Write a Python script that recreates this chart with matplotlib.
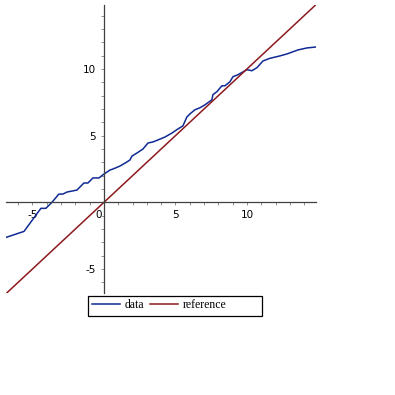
import matplotlib
matplotlib.use("Agg")
import matplotlib.pyplot as plt
import matplotlib.transforms as mtransforms
from matplotlib.patches import Rectangle
import numpy as np

data_x = [-6.85, -5.59, -4.41, -4.06, -3.64, -3.15, -2.87, -2.59, -1.89, -1.40, -1.12,
          -0.77, -0.35, 0.0, 0.42, 0.63, 1.12, 1.61, 1.82, 1.96, 2.31, 2.73, 3.08, 3.43,
          3.78, 4.27, 4.76, 5.17, 5.52, 5.8, 6.0, 6.36, 6.71, 7.06, 7.55, 7.62, 7.9,
          8.25, 8.46, 8.81, 9.02, 9.37, 10.0, 10.35, 10.7, 11.12, 11.6, 12.3, 12.8,
          13.57, 14.2, 14.83]
data_y = [-2.63, -2.18, -0.45, -0.45, 0.0, 0.62, 0.62, 0.77, 0.92, 1.45, 1.45,
          1.83, 1.83, 2.12, 2.42, 2.5, 2.72, 3.03, 3.18, 3.47, 3.7, 4.0, 4.45, 4.53,
          4.68, 4.9, 5.2, 5.5, 5.73, 6.4, 6.62, 6.94, 7.09, 7.31, 7.69, 8.07, 8.3,
          8.74, 8.74, 9.04, 9.42, 9.57, 9.95, 9.87, 10.1, 10.6, 10.8, 10.98, 11.13,
          11.43, 11.58, 11.65]
ref_x = [-6.85, 14.83]
ref_y = [-6.85, 14.83]
series_names = ["data", "reference"]
xmajor = [-5, 0, 5, 10]
ymajor = [-5, 5, 10]

W = 395
fig = plt.figure(figsize=(3.95, 3.95), dpi=100)
ax = fig.add_axes([6/W, 1-293/W, (316-6)/W, (293-5)/W])
ax.set_xlim(-6.85, 14.83)
ax.set_ylim(-6.8, 14.8)

l1, = ax.plot(data_x, data_y, color="#102a94", lw=1.1, label=series_names[0])
l2, = ax.plot(ref_x, ref_y, color="#8c1a1e", lw=1.1, label=series_names[1])

for s in ["top", "right"]:
    ax.spines[s].set_visible(False)
ax.spines["left"].set_position(("data", 0))
ax.spines["bottom"].set_position(("data", 0))
for s in ["left", "bottom"]:
    ax.spines[s].set_color("#404040")
    ax.spines[s].set_linewidth(0.9)

ax.set_xticks(xmajor)
ax.set_xticklabels([str(v) for v in xmajor])
ax.set_yticks(ymajor)
ax.set_yticklabels([str(v) for v in ymajor])
ax.set_xticks(np.arange(-6, 15, 1), minor=True)
ax.set_yticks(np.arange(-6, 15, 1), minor=True)
ax.tick_params(which="both", direction="out", length=2.5, width=0.7, color="#909090",
               labelsize=7.5, pad=3)

# shift the "0" label left of the axis
for lbl in ax.get_xticklabels():
    if lbl.get_text() == "0":
        lbl.set_transform(lbl.get_transform() + mtransforms.ScaledTranslation(-5/100, 0, fig.dpi_scale_trans))

# legend frame
fig.patches.append(Rectangle((88/W, 1-316/W), (261.5-88)/W, (316-295.5)/W,
                             transform=fig.transFigure, fill=False,
                             edgecolor="black", linewidth=0.9))
leg = fig.legend(handles=[l1, l2], loc="center left",
                 bbox_to_anchor=(92/W, 1-305.5/W), ncol=2, frameon=False,
                 handlelength=2.4, handletextpad=0.4, columnspacing=0.45,
                 borderpad=0.0, borderaxespad=0.0,
                 prop={"family": "Liberation Serif", "size": 8.5})

fig.savefig("out.png", dpi=100)
